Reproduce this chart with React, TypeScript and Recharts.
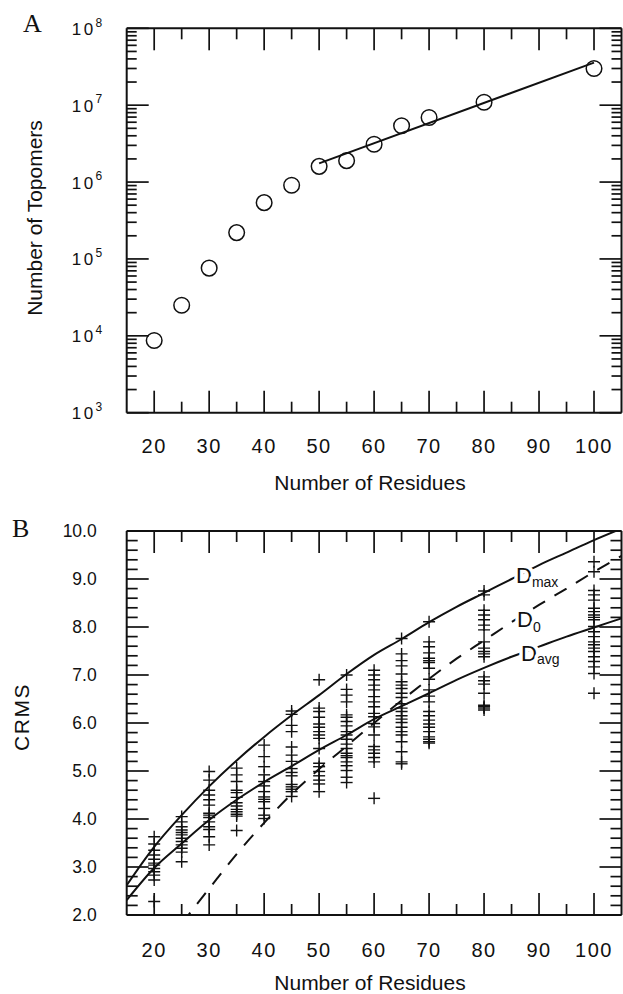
import React from "react";
import { ComposedChart, Scatter, Line, XAxis, YAxis } from "recharts";

const INK = "#111";
const SANS = "'Liberation Sans', Arial, Helvetica, sans-serif";
const SERIF = "'Liberation Serif', 'Times New Roman', serif";

// ---- panel A: number of topomers vs chain length
const residues = [20, 25, 30, 35, 40, 45, 50, 55, 60, 65, 70, 80, 100];
const topomers = [8.7e3, 2.5e4, 7.6e4, 2.2e5, 5.4e5, 9.1e5, 1.6e6, 1.9e6, 3.1e6, 5.4e6, 6.9e6, 1.09e7, 3.0e7];
const fitResidues = [50, 100];
const fitTopomers = [1.75e6, 3.58e7];

// ---- panel B: CRMS scatter + reference curves
const crmsResidues = [20, 25, 30, 35, 40, 45, 50, 55, 60, 65, 70, 80, 100];
const crmsValues = [
  [3.63, 3.48, 3.35, 3.25, 3.16, 3.08, 3.04, 2.97, 2.9, 2.83, 2.73, 2.28],
  [4.05, 3.94, 3.84, 3.77, 3.72, 3.67, 3.6, 3.53, 3.46, 3.39, 3.31, 3.11],
  [4.99, 4.81, 4.6, 4.5, 4.4, 4.29, 4.12, 4.08, 4.03, 3.94, 3.84, 3.78, 3.63, 3.46],
  [5.06, 4.92, 4.78, 4.6, 4.55, 4.45, 4.34, 4.27, 4.2, 4.15, 4.1, 4.06, 3.76],
  [5.54, 5.3, 5.09, 4.92, 4.78, 4.69, 4.57, 4.46, 4.41, 4.36, 4.22, 4.08, 4.01],
  [6.25, 6.18, 5.95, 5.82, 5.5, 5.33, 5.2, 5.05, 4.97, 4.9, 4.72, 4.67, 4.62, 4.57, 4.47],
  [6.9, 6.31, 6.24, 6.12, 5.98, 5.91, 5.82, 5.75, 5.68, 5.47, 5.16, 5.09, 4.99, 4.9, 4.81, 4.73, 4.57],
  [7.0, 6.7, 6.58, 6.44, 6.17, 6.12, 6.03, 5.94, 5.82, 5.75, 5.66, 5.56, 5.47, 5.37, 5.32, 5.28, 5.19, 5.11, 5.01, 4.87, 4.76],
  [7.1, 7.0, 6.9, 6.79, 6.69, 6.55, 6.44, 6.34, 6.2, 6.13, 5.99, 5.92, 5.75, 5.51, 5.44, 5.37, 5.28, 5.19, 4.43],
  [7.76, 7.44, 7.3, 7.19, 7.02, 6.86, 6.79, 6.72, 6.62, 6.53, 6.4, 6.31, 6.24, 6.15, 6.08, 6.01, 5.91, 5.82, 5.75, 5.61, 5.4, 5.19, 5.15],
  [8.11, 7.69, 7.59, 7.46, 7.35, 7.3, 7.26, 7.14, 6.91, 6.69, 6.56, 6.44, 6.24, 6.15, 6.06, 5.98, 5.91, 5.82, 5.71, 5.66, 5.61, 5.58],
  [8.75, 8.67, 8.35, 8.25, 8.15, 8.04, 7.94, 7.69, 7.56, 7.49, 7.44, 7.38, 6.96, 6.88, 6.81, 6.62, 6.37, 6.34, 6.31, 6.27],
  [9.36, 9.15, 8.76, 8.67, 8.56, 8.39, 8.32, 8.25, 8.2, 8.15, 8.01, 7.9, 7.8, 7.69, 7.63, 7.56, 7.49, 7.38, 7.28, 7.17, 7.03, 6.62],
];
const curveResidues = [15, 20, 25, 30, 35, 40, 45, 50, 55, 60, 65, 70, 75, 80, 85, 90, 95, 100, 105];
const dMax = [2.62, 3.42, 4.08, 4.68, 5.22, 5.71, 6.16, 6.58, 7.02, 7.42, 7.75, 8.1, 8.42, 8.71, 9.0, 9.29, 9.55, 9.81, 10.05];
const dAvg = [2.31, 2.98, 3.49, 3.98, 4.4, 4.77, 5.1, 5.44, 5.75, 6.08, 6.35, 6.62, 6.9, 7.15, 7.38, 7.59, 7.8, 7.99, 8.18];
const d0 = [null, null, 1.82, 2.55, 3.27, 3.92, 4.52, 5.04, 5.52, 6.0, 6.47, 6.92, 7.34, 7.72, 8.1, 8.46, 8.8, 9.15, 9.48];

// ---- ticks
const xTicks = [20, 25, 30, 35, 40, 45, 50, 55, 60, 65, 70, 75, 80, 85, 90, 95, 100];
const logTicks: number[] = [];
for (let d = 3; d < 8; d++) for (let k = 1; k <= 9; k++) logTicks.push(k * Math.pow(10, d));
logTicks.push(1e8);
const crmsTicks: number[] = [];
for (let i = 0; i <= 40; i++) crmsTicks.push(Math.round((2 + i * 0.2) * 10) / 10);

const topomerPoints = residues.map((n, i) => ({ n, v: topomers[i] }));
const fitPoints = fitResidues.map((n, i) => ({ n, v: fitTopomers[i] }));
const crossPoints = crmsResidues.flatMap((n, i) => crmsValues[i].map((v) => ({ n, v })));
const curve = (vals: (number | null)[]) =>
  curveResidues.map((n, i) => ({ n, v: vals[i] })).filter((p) => p.v !== null);

const PLOT_LEFT = 126.7;
const frame = { stroke: INK, strokeWidth: 2 };

type Side = "bottom" | "top" | "left" | "right";

// inward-pointing ticks, long at majors, with optional label outside
function axisTick(
  side: Side,
  isMajor: (v: number) => boolean,
  major: number,
  minor: number,
  label?: (v: number, x: number, y: number) => React.ReactNode
) {
  return (props: any) => {
    const { x, y, payload } = props;
    const v = payload.value;
    const big = isMajor(v);
    const len = big ? major : minor;
    const dx = side === "left" ? len : side === "right" ? -len : 0;
    const dy = side === "bottom" ? -len : side === "top" ? len : 0;
    return (
      <g>
        <line x1={x} y1={y} x2={x + dx} y2={y + dy} stroke={INK} strokeWidth={1.7} />
        {big && label ? label(v, x, y) : null}
      </g>
    );
  };
}

const isTen = (v: number) => v % 10 === 0;
const isDecade = (v: number) => Math.abs(Math.log10(v) - Math.round(Math.log10(v))) < 1e-9;
const isWhole = (v: number) => Math.abs(v - Math.round(v)) < 1e-9;

const xLabel = (dy: number) => (v: number, x: number, y: number) => (
  <text x={x} y={y + dy} textAnchor="middle" fontSize={20} letterSpacing={1.5} fontFamily={SANS} fill={INK}>
    {v}
  </text>
);

const logLabel = (v: number, _x: number, y: number) => (
  <text x={PLOT_LEFT - 55} y={y + 6.5} fontSize={17} letterSpacing={2.5} fontFamily={SANS} fill={INK}>
    10
    <tspan dy={-8.3} fontSize={12} letterSpacing={0}>
      {Math.round(Math.log10(v))}
    </tspan>
  </text>
);

const crmsLabel = (v: number, _x: number, y: number) => (
  <text x={PLOT_LEFT - 30} y={y + 6.3} textAnchor="end" fontSize={17.5} fontFamily={SANS} fill={INK}>
    {v.toFixed(1)}
  </text>
);

const circleShape = (p: any) => (
  <circle cx={p.cx} cy={p.cy} r={7.8} fill="none" stroke={INK} strokeWidth={1.5} />
);

const crossShape = (p: any) => (
  <g stroke={INK} strokeWidth={1.4}>
    <line x1={p.cx - 6} x2={p.cx + 6} y1={p.cy} y2={p.cy} />
    <line x1={p.cx} x2={p.cx} y1={p.cy - 6} y2={p.cy + 6} />
  </g>
);

// axes are 1px thick (Recharts skips zero-sized axes), margins compensate
function PanelA() {
  return (
    <ComposedChart width={623} height={500} margin={{ top: 27.3, right: 0.5, bottom: 86.3, left: PLOT_LEFT - 1 }}>
      <XAxis type="number" dataKey="n" domain={[15, 105]} ticks={xTicks} interval={0} height={1}
        tickSize={0} tickMargin={0} axisLine={frame} tickLine={false} allowDataOverflow
        tick={axisTick("bottom", isTen, 22, 11, xLabel(40))} />
      <XAxis xAxisId="top" orientation="top" type="number" dataKey="n" domain={[15, 105]} ticks={xTicks}
        interval={0} height={1} tickSize={0} tickMargin={0} axisLine={frame} tickLine={false} allowDataOverflow
        tick={axisTick("top", isTen, 22, 11)} />
      <YAxis type="number" dataKey="v" scale="log" domain={[1e3, 1e8]} ticks={logTicks} interval={0} width={1}
        tickSize={0} tickMargin={0} axisLine={frame} tickLine={false} allowDataOverflow
        tick={axisTick("left", isDecade, 22, 10, logLabel)} />
      <YAxis yAxisId="right" orientation="right" type="number" scale="log" domain={[1e3, 1e8]} ticks={logTicks}
        interval={0} width={1} tickSize={0} tickMargin={0} axisLine={frame} tickLine={false} allowDataOverflow
        tick={axisTick("right", isDecade, 22, 10)} />
      <Line data={fitPoints} dataKey="v" type="linear" stroke={INK} strokeWidth={2} dot={false}
        activeDot={false} isAnimationActive={false} />
      <Scatter data={topomerPoints} dataKey="v" shape={circleShape} isAnimationActive={false} />
    </ComposedChart>
  );
}

function PanelB() {
  return (
    <ComposedChart width={623} height={494} margin={{ top: 30, right: 0.5, bottom: 78, left: PLOT_LEFT - 1 }}>
      <XAxis type="number" dataKey="n" domain={[15, 105]} ticks={xTicks} interval={0} height={1}
        tickSize={0} tickMargin={0} axisLine={frame} tickLine={false} allowDataOverflow
        tick={axisTick("bottom", isTen, 22, 11, xLabel(42))} />
      <XAxis xAxisId="top" orientation="top" type="number" dataKey="n" domain={[15, 105]} ticks={xTicks}
        interval={0} height={1} tickSize={0} tickMargin={0} axisLine={frame} tickLine={false} allowDataOverflow
        tick={axisTick("top", isTen, 22, 11)} />
      <YAxis type="number" dataKey="v" domain={[2, 10]} ticks={crmsTicks} interval={0} width={1}
        tickSize={0} tickMargin={0} axisLine={frame} tickLine={false} allowDataOverflow
        tick={axisTick("left", isWhole, 22, 11, crmsLabel)} />
      <YAxis yAxisId="right" orientation="right" type="number" domain={[2, 10]} ticks={crmsTicks}
        interval={0} width={1} tickSize={0} tickMargin={0} axisLine={frame} tickLine={false} allowDataOverflow
        tick={axisTick("right", isWhole, 22, 11)} />
      <Line data={curve(dMax)} dataKey="v" type="monotone" stroke={INK} strokeWidth={2} dot={false}
        activeDot={false} isAnimationActive={false} />
      <Line data={curve(dAvg)} dataKey="v" type="monotone" stroke={INK} strokeWidth={2} dot={false}
        activeDot={false} isAnimationActive={false} />
      <Line data={curve(d0)} dataKey="v" type="monotone" stroke={INK} strokeWidth={2} strokeDasharray="14 11"
        dot={false} activeDot={false} isAnimationActive={false} />
      <Scatter data={crossPoints} dataKey="v" shape={crossShape} isAnimationActive={false} />
    </ComposedChart>
  );
}

const halo = { paintOrder: "stroke" as const, stroke: "#fff", strokeWidth: 7, strokeLinejoin: "round" as const };

function CurveLabel({ x, y, sub, subDy }: { x: number; y: number; sub: string; subDy: number }) {
  return (
    <text x={x} y={y} fontSize={22} fontFamily={SANS} fill={INK} style={halo}>
      D
      <tspan dy={subDy} fontSize={14}>{sub}</tspan>
    </text>
  );
}

export default function App() {
  return (
    <div style={{ position: "absolute", left: 0, top: 0, width: 623, height: 994, background: "#fff" }}>
      <div style={{ position: "absolute", left: 0, top: 0 }}>
        <PanelA />
      </div>
      <div style={{ position: "absolute", left: 0, top: 500 }}>
        <PanelB />
      </div>
      <svg width={623} height={994} style={{ position: "absolute", left: 0, top: 0, pointerEvents: "none" }}>
        <text x={23} y={32} fontSize={26} fontFamily={SERIF} fill={INK}>A</text>
        <text x={12} y={537} fontSize={26} fontFamily={SERIF} fill={INK}>B</text>
        <text transform="translate(42,218) rotate(-90)" textAnchor="middle" fontSize={21} fontFamily={SANS} fill={INK}>
          Number of Topomers
        </text>
        <text transform="translate(28.5,717) rotate(-90)" textAnchor="middle" fontSize={21} letterSpacing={1.5}
          fontFamily={SANS} fill={INK}>
          CRMS
        </text>
        <text x={370} y={490} textAnchor="middle" fontSize={21} fontFamily={SANS} fill={INK}>Number of Residues</text>
        <text x={370} y={990} textAnchor="middle" fontSize={21} fontFamily={SANS} fill={INK}>Number of Residues</text>
        <CurveLabel x={516} y={583} sub="max" subDy={4} />
        <CurveLabel x={517} y={627} sub="0" subDy={5} />
        <CurveLabel x={521} y={661} sub="avg" subDy={3} />
      </svg>
    </div>
  );
}
